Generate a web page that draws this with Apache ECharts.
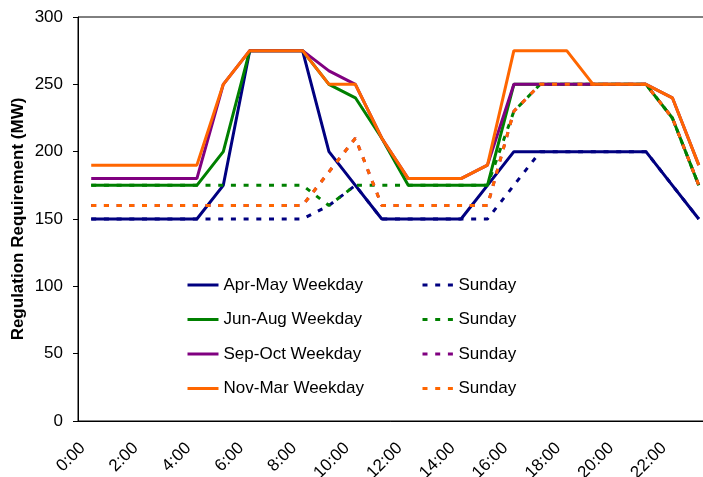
<!DOCTYPE html>
<html>
<head>
<meta charset="utf-8">
<script src="https://cdn.jsdelivr.net/npm/echarts@6/dist/echarts.min.js"></script>
<style>
  html, body { margin: 0; padding: 0; background: #fff; }
  #chart { width: 703px; height: 477px; }
</style>
</head>
<body>
<div id="chart"></div>
<script>
// hours of the day
var hours = ['0:00','1:00','2:00','3:00','4:00','5:00','6:00','7:00','8:00','9:00','10:00','11:00',
             '12:00','13:00','14:00','15:00','16:00','17:00','18:00','19:00','20:00','21:00','22:00','23:00'];

// weekday requirement (MW)
var aprMayWeekday = [150,150,150,150,150,175,275,275,275,200,175,150,150,150,150,175,200,200,200,200,200,200,175,150];
var junAugWeekday = [175,175,175,175,175,200,275,275,275,250,240,210,175,175,175,175,250,250,250,250,250,250,225,175];
var sepOctWeekday = [180,180,180,180,180,250,275,275,275,260,250,210,180,180,180,190,250,250,250,250,250,250,240,190];
var novMarWeekday = [190,190,190,190,190,250,275,275,275,250,250,210,180,180,180,190,275,275,275,250,250,250,240,190];

// sunday requirement (MW)
var aprMaySunday = [150,150,150,150,150,150,150,150,150,160,175,150,150,150,150,150,175,200,200,200,200,200,175,150];
var junAugSunday = [175,175,175,175,175,175,175,175,175,160,175,175,175,175,175,175,230,250,250,250,250,250,225,175];
var sepOctSunday = [160,160,160,160,160,160,160,160,160,185,210,160,160,160,160,160,230,250,250,250,250,250,225,175];
var novMarSunday = [160,160,160,160,160,160,160,160,160,185,210,160,160,160,160,160,230,250,250,250,250,250,225,175];

var font = 'Liberation Sans, Arial, sans-serif';
var dash = [5, 7.7];

function line(name, data, color, dashed) {
    return {
        name: name,
        type: 'line',
        data: data,
        symbol: 'none',
        silent: true,
        lineStyle: { color: color, width: 3, type: dashed ? dash : 'solid' },
        itemStyle: { color: color },
        emphasis: { disabled: true }
    };
}

var chart = echarts.init(document.getElementById('chart'));

var option = {
    animation: false,
    backgroundColor: '#fff',
    grid: {
        left: 78, top: 17, width: 634, height: 404,
        outerBoundsMode: 'none',
        containLabel: false,
        show: true, borderColor: '#000', borderWidth: 1
    },
    legend: [{
        orient: 'vertical',
        left: 186, top: 275, padding: 0,
        itemWidth: 31, itemHeight: 14, itemGap: 14.5, itemTextGap: 3,
        selectedMode: false,
        itemStyle: { opacity: 0 },
        lineStyle: { width: 3 },
        textStyle: { fontFamily: font, fontSize: 17, color: '#000', lineHeight: 20 },
        data: ['Apr-May Weekday', 'Jun-Aug Weekday', 'Sep-Oct Weekday', 'Nov-Mar Weekday']
    }, {
        orient: 'vertical',
        left: 421, top: 275, padding: 0,
        itemWidth: 31, itemHeight: 14, itemGap: 14.5, itemTextGap: 5,
        selectedMode: false,
        itemStyle: { opacity: 0 },
        lineStyle: { width: 3 },
        formatter: function () { return 'Sunday'; },
        textStyle: { fontFamily: font, fontSize: 17, color: '#000', lineHeight: 20 },
        data: ['Apr-May Sunday', 'Jun-Aug Sunday', 'Sep-Oct Sunday', 'Nov-Mar Sunday']
    }],
    xAxis: {
        type: 'category',
        data: hours,
        boundaryGap: true,
        axisLine: { lineStyle: { color: '#000', width: 1 } },
        axisTick: { interval: 0, length: 5, lineStyle: { color: '#000' } },
        axisLabel: {
            interval: 1, rotate: 45, margin: 16, padding: [0, 12, 0, 0],
            fontFamily: font, fontSize: 17, color: '#000'
        },
        splitLine: { show: false }
    },
    yAxis: {
        type: 'value',
        min: 0, max: 300, interval: 50,
        name: 'Regulation Requirement (MW)',
        nameLocation: 'middle',
        nameGap: 51,
        nameMoveOverlap: false,
        nameTextStyle: { fontFamily: font, fontSize: 17, fontWeight: 'bold', color: '#000' },
        axisLine: { show: true, lineStyle: { color: '#000', width: 1 } },
        axisTick: { show: true, length: 5, lineStyle: { color: '#000' } },
        axisLabel: { margin: 15, fontFamily: font, fontSize: 17, color: '#000' },
        splitLine: { show: false }
    },
    series: [
        line('Apr-May Weekday', aprMayWeekday, '#000080', false),
        line('Apr-May Sunday', aprMaySunday, '#000080', true),
        line('Jun-Aug Weekday', junAugWeekday, '#008000', false),
        line('Jun-Aug Sunday', junAugSunday, '#008000', true),
        line('Sep-Oct Weekday', sepOctWeekday, '#800080', false),
        line('Sep-Oct Sunday', sepOctSunday, '#800080', true),
        line('Nov-Mar Weekday', novMarWeekday, '#FF6600', false),
        line('Nov-Mar Sunday', novMarSunday, '#FF6600', true)
    ]
};

chart.setOption(option);
</script>
</body>
</html>
